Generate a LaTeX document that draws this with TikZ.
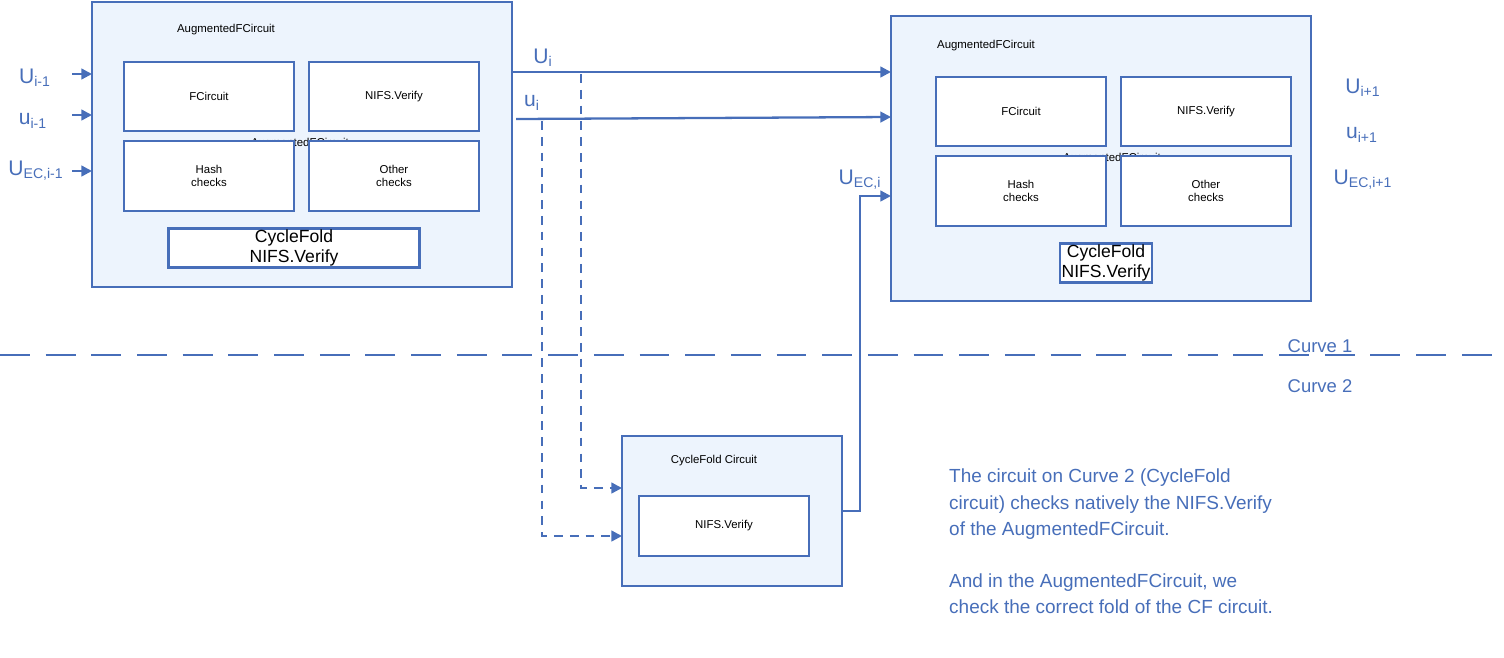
\documentclass[tikz,border=0pt]{standalone}
\usepackage{fontspec}
\setmainfont{Liberation Sans}
\usetikzlibrary{arrows.meta,positioning}
\definecolor{cfblue}{RGB}{71,110,185}
\definecolor{cffill}{RGB}{237,244,253}
\tikzset{
    outer/.style={draw=cfblue, line width=1.3pt, fill=cffill},
    inner/.style={draw=cfblue, line width=1.3pt, fill=white, align=center, font=\fontsize{6.5}{7.5}\selectfont},
    small/.style={font=\fontsize{6.5}{7.5}\selectfont},
    cfbox/.style={draw=cfblue, line width=1.3pt, fill=white, align=center, inner sep=1pt, font=\fontsize{10}{11}\selectfont},
    lab/.style={text=cfblue, font=\fontsize{12}{14}\selectfont},
    wire/.style={draw=cfblue, line width=1.3pt, -{Triangle[length=6pt,width=6pt]}},
    dwire/.style={wire, dash pattern=on 5pt off 4pt},
}
\begin{document}
\begin{tikzpicture}[x=0.02cm, y=-0.02cm]
\useasboundingbox (0,0) rectangle (1504,657);
% left AugmentedFCircuit
\draw[outer] (92,2) rectangle (512,287);
\node[small] (atitle) at (226,30) {AugmentedFCircuit};
\node[small] at (300,144) {AugmentedFCircuit};
\draw[inner] (124,62) rectangle node (fc) {FCircuit} (294,131);
\draw[inner] (309,62) rectangle node (nv) {NIFS.Verify} (479,131);
\draw[inner] (124,141) rectangle node (hc) {Hash\\checks} (294,211);
\draw[inner] (309,141) rectangle node (oc) {Other\\checks} (479,211);
\node[cfbox, minimum width=110\pgflinewidth] (cfv) at (294,248) {CycleFold\\NIFS.Verify};
% right AugmentedFCircuit
\draw[outer] (891,16) rectangle (1311,301);
\node[small] (btitle) at (986,46) {AugmentedFCircuit};
\node[small] at (1112,159) {AugmentedFCircuit};
\draw[inner] (936,77) rectangle node (fc2) {FCircuit} (1106,146);
\draw[inner] (1121,77) rectangle node (nv2) {NIFS.Verify} (1291,146);
\draw[inner] (936,156) rectangle node (hc2) {Hash\\checks} (1106,226);
\draw[inner] (1121,156) rectangle node (oc2) {Other\\checks} (1291,226);
\node[cfbox] (cfv2) at (1106,263) {CycleFold\\NIFS.Verify};
% CycleFold circuit on curve 2
\draw[outer] (622,436) rectangle (842,586);
\node[small] (ctitle) at (714,461) {CycleFold Circuit};
\draw[inner] (639,496) rectangle node (cnv) {NIFS.Verify} (809,556);
% curve separator
\draw[cfblue, line width=1.3pt, dash pattern=on 17pt off 9pt] (0,355) -- (1504,355);
\node[text=cfblue, font=\fontsize{10.5}{12}\selectfont] (c1) at (1320,346) {Curve 1};
\node[text=cfblue, font=\fontsize{10.5}{12}\selectfont] (c2) at (1320,386) {Curve 2};
% inputs
\coordinate (a1) at (72,74);  \coordinate (b1) at (92,74);
\coordinate (a2) at (72,115); \coordinate (b2) at (92,115);
\coordinate (a3) at (72,171); \coordinate (b3) at (92,171);
\draw[wire] (a1) -- (b1);
\draw[wire] (a2) -- (b2);
\draw[wire] (a3) -- (b3);
\node[lab] at (35,78) {U\textsubscript{i-1}};
\node[lab] at (33,121) {u\textsubscript{i-1}};
\node[lab] at (36,171) {U\textsubscript{EC,i-1}};
% outputs
\coordinate (Uo) at (512,72);  \coordinate (Ui) at (891,72);
\coordinate (uo) at (516,119); \coordinate (ui) at (891,117);
\draw[wire] (Uo) -- (Ui);
\draw[wire] (uo) -- (ui);
\node[lab] at (543,58) {U\textsubscript{i}};
\node[lab] at (532,103) {u\textsubscript{i}};
\draw[dwire] (581,74) |- (622,488);
\draw[dwire] (542,121) |- (622,536);
\coordinate (eo) at (842,511); \coordinate (ei) at (891,196);
\draw[wire] (eo) -- (860,511) |- (ei);
\node[lab] at (860,180) {U\textsubscript{EC,i}};
\node[lab] at (1363,88) {U\textsubscript{i+1}};
\node[lab] at (1362,135) {u\textsubscript{i+1}};
\node[lab] at (1363,180) {U\textsubscript{EC,i+1}};
% note
\node[text=cfblue, anchor=north west, align=left, font=\fontsize{10.8}{14.9}\selectfont] (note) at (943,463)
  {The circuit on Curve 2 (CycleFold\\circuit) checks natively the NIFS.Verify\\of the AugmentedFCircuit.\\[14.9pt]And in the AugmentedFCircuit, we\\check the correct fold of the CF circuit.};
\end{tikzpicture}
\end{document}
